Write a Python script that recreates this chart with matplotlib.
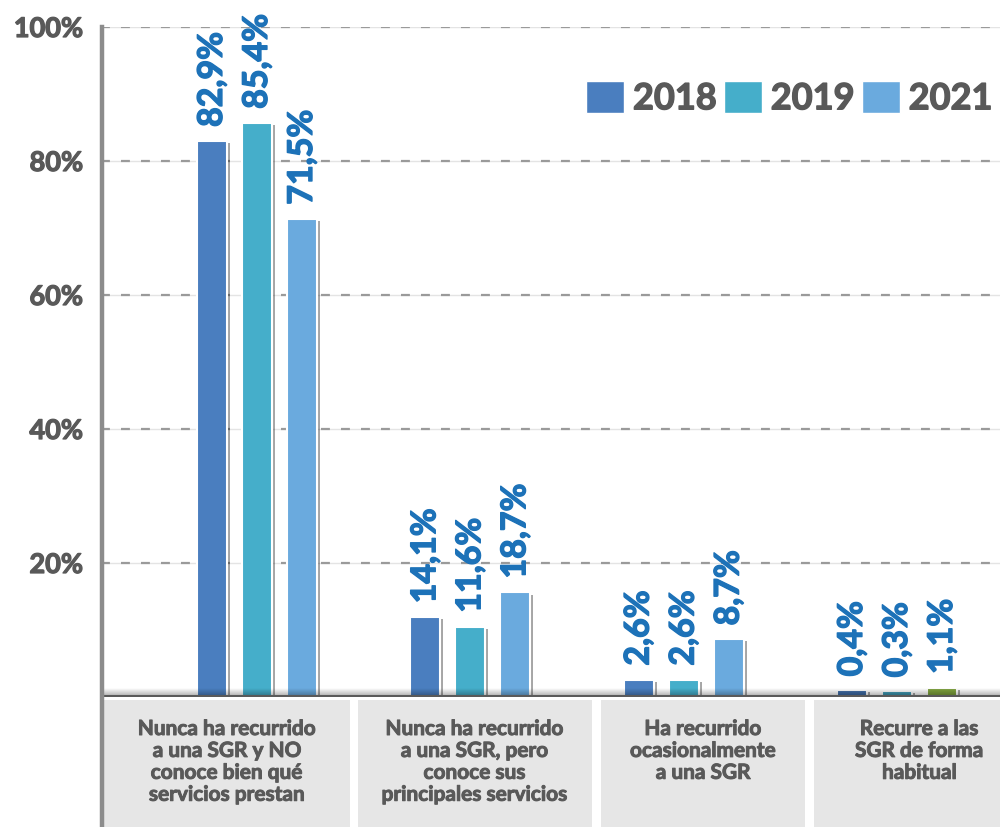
import numpy as np
import matplotlib
matplotlib.use("Agg")
import matplotlib.pyplot as plt
import matplotlib.patheffects as pe
import matplotlib.transforms as mtransforms
from matplotlib.patches import Rectangle, Patch
from matplotlib.lines import Line2D

plt.rcParams['font.family'] = ['Lato', 'DejaVu Sans']

# data
categories = [
    "Nunca ha recurrido\na una SGR y NO\nconoce bien qué\nservicios prestan",
    "Nunca ha recurrido\na una SGR, pero\nconoce sus\nprincipales servicios",
    "Ha recurrido\nocasionalmente\na una SGR",
    "Recurre a las\nSGR de forma\nhabitual",
]
years = ["2018", "2019", "2021"]
# bar heights as drawn in the original chart
bars_2018 = [83.0, 11.9, 2.6, 1.0]
bars_2019 = [85.7, 10.5, 2.6, 0.85]
bars_2021 = [71.4, 15.6, 8.6, 1.35]
# value labels as printed
labels_2018 = ["82,9%", "14,1%", "2,6%", "0,4%"]
labels_2019 = ["85,4%", "11,6%", "2,6%", "0,3%"]
labels_2021 = ["71,5%", "18,7%", "8,7%", "1,1%"]
yticks = [20, 40, 60, 80, 100]
ytick_labels = ["20%", "40%", "60%", "80%", "100%"]

colors = ['#4a7ebf', '#45aeca', '#6aaade']
last_colors = ['#3f6ca6', '#3d98b2', '#7fa33e']
text_gray = '#595959'
label_blue = '#1d72b8'


def heavy(color, w=0.8):
    # thicken Lato Bold a little, the original font is heavier
    return [pe.withStroke(linewidth=w, foreground=color)]


fig = plt.figure(figsize=(10, 8.27), dpi=100)
ax = fig.add_axes([0.101, 1 - 697 / 827, 0.899, (697 - 27) / 827])

x = np.arange(len(categories))
width = 0.14
offset = 0.211
series = [bars_2018, bars_2019, bars_2021]
label_sets = [labels_2018, labels_2019, labels_2021]

shadow = [pe.SimplePatchShadow(offset=(2.2, -1.5), shadow_rgbFace='black', alpha=0.35), pe.Normal()]

# grid
for t in yticks:
    ax.axhline(t, color='#e4e4e4', lw=1.0, zorder=0)
    ax.axhline(t, color='#9a9a9a', lw=1.6, ls=(0, (4, 5)), zorder=0.5)

for i, (vals, labs) in enumerate(zip(series, label_sets)):
    cols = [colors[i]] * 3 + [last_colors[i]]
    bars = ax.bar(x + (i - 1) * offset, vals, width=width, color=cols,
                  edgecolor='white', linewidth=1.5, zorder=3)
    for b, lab in zip(bars, labs):
        b.set_path_effects(shadow)
        ax.annotate(lab, (b.get_x() + b.get_width() / 2, b.get_height()),
                    xytext=(0, 10), textcoords='offset points', rotation=90,
                    ha='center', va='bottom', color=label_blue,
                    fontsize=24.5, fontweight='bold', zorder=4,
                    path_effects=heavy(label_blue, 1.0))

# shadow gradient above the baseline
grad = np.linspace(0, 1, 50).reshape(-1, 1)
cmap = matplotlib.colors.LinearSegmentedColormap.from_list(
    'sh', [(0, 0, 0, 0.35), (0, 0, 0, 0.0)])
ax.imshow(grad, extent=(-1, 4, 0, 1.3), origin='lower', cmap=cmap,
          aspect='auto', zorder=5)
ax.axhline(0.1, color='#5a5a5a', lw=2.2, zorder=6)

ax.set_xlim(-0.731, 3.483)
ax.set_ylim(0, 100)
ax.set_yticks(yticks)
ax.set_yticklabels(ytick_labels)
ax.tick_params(axis='y', length=0, pad=13, labelsize=19.5, labelcolor=text_gray)
for lab in ax.get_yticklabels():
    lab.set_fontweight('bold')
    lab.set_path_effects(heavy(text_gray, 0.9))
ax.set_xticks([])
for s in ax.spines.values():
    s.set_visible(False)

# left axis line, running down through the category area
fig.add_artist(Line2D([0.1015, 0.1015], [0, 1 - 27 / 827], color='#8c8c8c', lw=3.2))

# category boxes under the axis
trans = mtransforms.blended_transform_factory(ax.transData, fig.transFigure)
box_edges = [(-0.715, 0.435), (0.472, 1.57), (1.613, 2.57), (2.61, 3.6)]
box_top = 1 - 700 / 827
for (x0, x1), cat in zip(box_edges, categories):
    fig.add_artist(Rectangle((x0, 0), x1 - x0, box_top, transform=trans,
                             facecolor='#e6e6e6', edgecolor='none', zorder=1))
    fig.text((x0 + x1) / 2, 1 - 719 / 827, cat, transform=trans,
             ha='center', va='top', fontsize=15, fontweight='bold',
             color=text_gray, linespacing=1.12, zorder=2,
             path_effects=heavy(text_gray, 0.7))

handles = [Patch(facecolor=c, edgecolor='white') for c in colors]
leg = ax.legend(handles, years, loc='center left', bbox_to_anchor=(0.5395, 0.894),
                ncol=3, frameon=False, fontsize=26, borderpad=0, borderaxespad=0,
                handlelength=1.05, handleheight=1.0, handletextpad=0.25,
                columnspacing=0.2)
for t in leg.get_texts():
    t.set_color(text_gray)
    t.set_fontweight('bold')
    t.set_path_effects(heavy(text_gray, 1.0))

fig.savefig('out.png', dpi=100)
